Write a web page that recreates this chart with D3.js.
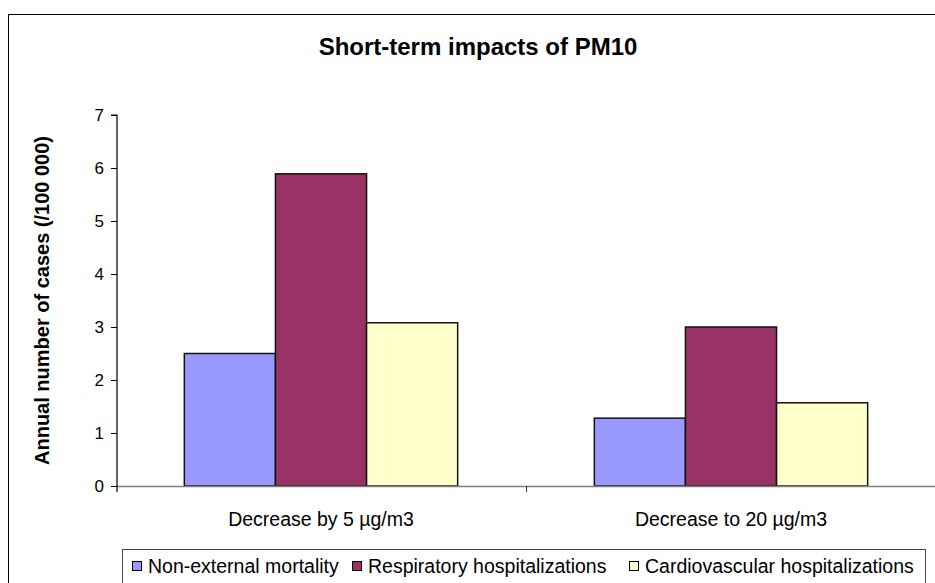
<!DOCTYPE html>
<html>
<head>
<meta charset="utf-8">
<script src="https://cdn.jsdelivr.net/npm/d3@7"></script>
<style>
  html, body { margin: 0; padding: 0; background: #fff; }
  svg { display: block; font-family: "Liberation Sans", Arial, sans-serif; }
</style>
</head>
<body>
<div id="chart"></div>
<script>
// data
const categories = ["Decrease by 5 µg/m3", "Decrease to 20 µg/m3"]
const seriesNames = ["Non-external mortality", "Respiratory hospitalizations", "Cardiovascular hospitalizations"]
const mortality = [2.5, 1.28]
const respiratory = [5.89, 3.0]
const cardiovascular = [3.08, 1.57]
const yTicks = [0, 1, 2, 3, 4, 5, 6, 7]

const seriesColors = ["#9999ff", "#993366", "#ffffcc"]
const seriesValues = [mortality, respiratory, cardiovascular]

const width = 935
const height = 583
const plot = { left: 116, right: 936, top: 115, bottom: 486 }

const svg = d3.select("#chart")
  .append("svg")
  .attr("width", width)
  .attr("height", height)

// outer chart border (runs off right/bottom edge)
svg.append("rect")
  .attr("x", 8.5).attr("y", 14.5)
  .attr("width", 960).attr("height", 600)
  .attr("fill", "#fff")
  .attr("stroke", "#000")
  .attr("stroke-width", 1)

// title
svg.append("text")
  .attr("x", 478)
  .attr("y", 55)
  .attr("text-anchor", "middle")
  .attr("font-size", "24px")
  .attr("font-weight", "bold")
  .text("Short-term impacts of PM10")

const x0 = d3.scaleBand()
  .domain(categories)
  .range([plot.left, plot.right])
  .padding(0)

const x1 = d3.scaleBand()
  .domain(seriesNames)
  .range([0, x0.bandwidth()])
  .paddingInner(0)
  .paddingOuter(0.75)

const y = d3.scaleLinear()
  .domain([0, 7])
  .range([plot.bottom, plot.top])

// bars
categories.forEach((cat, ci) => {
  seriesNames.forEach((s, si) => {
    const v = seriesValues[si][ci]
    svg.append("rect")
      .attr("x", x0(cat) + x1(s))
      .attr("y", y(v))
      .attr("width", x1.bandwidth())
      .attr("height", y(0) - y(v))
      .attr("fill", seriesColors[si])
      .attr("stroke", "#111")
      .attr("stroke-width", 1.5)
  })
})

// x axis (grey line, ticks at category boundaries)
svg.append("line")
  .attr("x1", plot.left).attr("x2", plot.right)
  .attr("y1", plot.bottom + 0.5).attr("y2", plot.bottom + 0.5)
  .attr("stroke", "#808080")
  .attr("stroke-width", 1.5)

const bounds = categories.map(c => x0(c)).concat([plot.right])
bounds.slice(1).forEach(bx => {
  svg.append("line")
    .attr("x1", Math.round(bx) + 0.5).attr("x2", Math.round(bx) + 0.5)
    .attr("y1", plot.bottom).attr("y2", plot.bottom + 6)
    .attr("stroke", "#333")
})

categories.forEach(cat => {
  svg.append("text")
    .attr("x", x0(cat) + x0.bandwidth() / 2)
    .attr("y", 526)
    .attr("text-anchor", "middle")
    .attr("font-size", "19.5px")
    .text(cat)
})

// y axis
const yAxis = d3.axisLeft(y)
  .tickValues(yTicks)
  .tickSize(6)
  .tickPadding(7)
  .tickFormat(d3.format("d"))

const gy = svg.append("g")
  .attr("transform", `translate(${plot.left + 1},0)`)
  .call(yAxis)

gy.select(".domain")
  .attr("d", `M-6,${plot.top}H0V${plot.bottom + 6}`)
  .attr("stroke", "#000")
  .attr("stroke-width", 1.2)
gy.selectAll(".tick line").attr("stroke", "#000")
gy.selectAll("text")
  .attr("font-size", "17px")
  .attr("fill", "#000")
  .attr("font-family", "Liberation Sans, Arial, sans-serif")

svg.append("text")
  .attr("transform", `translate(49,${(plot.top + plot.bottom) / 2}) rotate(-90)`)
  .attr("text-anchor", "middle")
  .attr("font-size", "20px")
  .attr("font-weight", "bold")
  .text("Annual number of cases (/100 000)")

// legend
svg.append("rect")
  .attr("x", 122.5).attr("y", 549.5)
  .attr("width", 803).attr("height", 60)
  .attr("fill", "#fff")
  .attr("stroke", "#444")
  .attr("stroke-width", 1)

const legendX = [132, 352, 629]
seriesNames.forEach((s, i) => {
  const g = svg.append("g").attr("transform", `translate(${legendX[i]},0)`)
  g.append("rect")
    .attr("x", 0.5).attr("y", 561.5)
    .attr("width", 9).attr("height", 9)
    .attr("fill", seriesColors[i])
    .attr("stroke", "#000")
  g.append("text")
    .attr("x", 16)
    .attr("y", 573)
    .attr("font-size", "19.5px")
    .text(s)
})
</script>
</body>
</html>
